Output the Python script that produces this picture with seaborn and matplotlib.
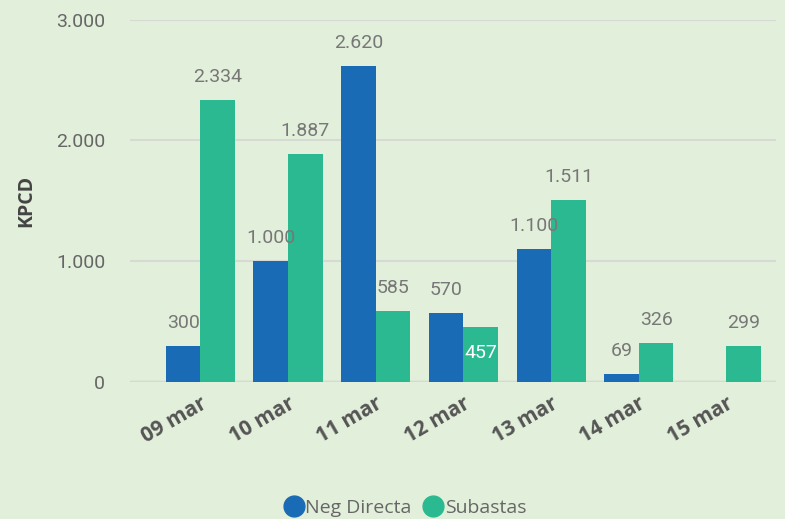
import numpy as np
import pandas as pd
import matplotlib
matplotlib.use("Agg")
import matplotlib.pyplot as plt
from matplotlib.lines import Line2D
import seaborn as sns

# data
dates = ["09 mar", "10 mar", "11 mar", "12 mar", "13 mar", "14 mar", "15 mar"]
neg_directa = [300, 1000, 2620, 570, 1100, 69, np.nan]
subastas = [2334, 1887, 585, 457, 1511, 326, 299]
series_names = ["Neg Directa", "Subastas"]
yticks = [0, 1000, 2000, 3000]

BG = "#e2efda"
COLORS = ["#1a6bb5", "#2bb991"]
TEXT = "#666666"

df = pd.DataFrame({
    "fecha": dates * 2,
    "serie": [series_names[0]] * len(dates) + [series_names[1]] * len(dates),
    "kpcd": neg_directa + subastas,
})

sns.set_style("white")
plt.rcParams["font.family"] = ["Roboto", "DejaVu Sans"]

fig = plt.figure(figsize=(7.85, 5.19), dpi=100, facecolor=BG)
ax = fig.add_axes([0.166, 0.264, 0.822, 0.698])
ax.set_facecolor(BG)

sns.barplot(
    data=df, x="fecha", y="kpcd", hue="serie",
    order=dates, hue_order=series_names,
    palette=COLORS, saturation=1, width=0.79, gap=0,
    linewidth=0, errorbar=None, legend=False, ax=ax,
)


def fmt(v):
    return f"{v:,.0f}".replace(",", ".")


# value labels above the bars ("457" sits inside its bar in white)
for container in ax.containers:
    for bar in container:
        h = bar.get_height()
        if np.isnan(h):
            continue
        x = bar.get_x() + bar.get_width() / 2
        if h == 457:
            ax.annotate(fmt(h), (x, h), xytext=(0, -19), textcoords="offset points",
                        ha="center", va="center", fontsize=14, color="white")
        else:
            ax.annotate(fmt(h), (x, h), xytext=(0, 16.5), textcoords="offset points",
                        ha="center", va="center", fontsize=14, color="#777777")

ax.set_ylim(0, 3000)
ax.set_xlim(-0.8, 6.56)
ax.set_yticks(yticks)
ax.set_yticklabels([fmt(t) for t in yticks], fontsize=14, color=TEXT)
ax.yaxis.grid(True, color="#d6d9d4", linewidth=1.5)
ax.axhline(0, color="#d0d3ce", linewidth=2.5, zorder=0.5)
ax.set_axisbelow(True)
ax.tick_params(axis="both", length=0)
ax.tick_params(axis="y", pad=18)
for s in ax.spines.values():
    s.set_visible(False)

ax.set_xticks(range(len(dates)))
ax.set_xticklabels(dates, rotation=30, ha="right", rotation_mode="anchor",
                   fontsize=15, fontweight="bold", color="#555555",
                   family=["Open Sans", "DejaVu Sans"])
ax.tick_params(axis="x", pad=8)
ax.set_xlabel("")
ax.set_ylabel("KPCD", fontsize=14, fontweight="bold", color="#444444",
              family=["Open Sans", "DejaVu Sans"], labelpad=14)

handles = [Line2D([0], [0], marker="o", linestyle="", markersize=15,
                  markerfacecolor=c, markeredgecolor=c) for c in COLORS]
fig.legend(handles, series_names, loc="lower center", bbox_to_anchor=(0.515, -0.03),
           ncol=2, frameon=False, labelcolor=TEXT,
           handletextpad=0.0, columnspacing=0.5, handlelength=1.2,
           prop={"family": ["Open Sans", "DejaVu Sans"], "size": 14})

fig.savefig("out.png", dpi=100, facecolor=BG)
